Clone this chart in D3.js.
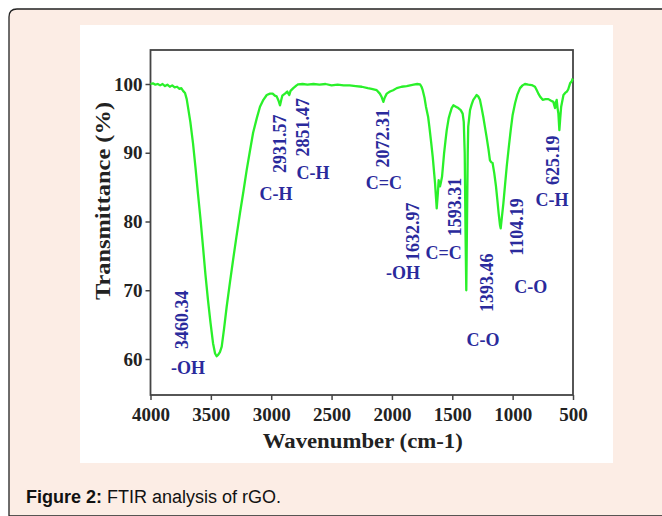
<!DOCTYPE html>
<html>
<head>
<meta charset="utf-8">
<script src="https://cdn.jsdelivr.net/npm/d3@7"></script>
<style>
  html, body { margin: 0; padding: 0; background: #ffffff; }
  svg { display: block; }
</style>
</head>
<body>
<svg id="chart" width="662" height="516"></svg>
<script>
// spectrum (wavenumber cm-1, transmittance %)
const wavenumber = [4000, 3980, 3960, 3940, 3920, 3900, 3880, 3860, 3840, 3820, 3800, 3780, 3760, 3745, 3730, 3714,
  3700, 3690, 3670, 3648, 3627, 3607, 3585, 3565, 3545, 3524, 3503, 3482, 3465, 3452, 3440, 3425, 3410, 3390, 3369,
  3343, 3316, 3288, 3259, 3230, 3203, 3176, 3150, 3120, 3093, 3065, 3037, 3010, 2988, 2970, 2955, 2940, 2927, 2918,
  2908, 2886, 2867, 2858, 2850, 2840, 2817, 2790, 2776, 2740, 2700, 2650, 2600, 2550, 2500, 2450, 2400, 2350, 2300,
  2250, 2200, 2168, 2126, 2100, 2085, 2071, 2060, 2043, 2016, 1990, 1960, 1920, 1878, 1820, 1790, 1767, 1755, 1745,
  1730, 1718, 1700, 1690, 1675, 1662, 1650, 1643, 1635, 1629, 1620, 1613, 1602, 1593, 1585, 1575, 1568, 1556, 1546,
  1530, 1519, 1505, 1491, 1470, 1450, 1430, 1414, 1405, 1397, 1390, 1384, 1378, 1372, 1368, 1353, 1340, 1326, 1310,
  1298, 1285, 1271, 1258, 1243, 1230, 1216, 1200, 1188, 1176, 1166, 1152, 1138, 1127, 1116, 1105, 1099, 1090, 1077,
  1062, 1049, 1032, 1016, 1000, 980, 960, 939, 918, 898, 870, 842, 815, 800, 787, 770, 751, 728, 704, 685, 663, 649,
  642, 635, 628, 621, 613, 605, 598, 579, 565, 551, 540, 524, 510, 502];
const transmittance = [100.0, 100.1, 99.9, 100.0, 99.8, 100.0, 99.7, 99.9, 99.6, 99.8, 99.5, 99.6, 99.3, 99.4, 99.0, 98.7,
  97.8, 96.7, 94.5, 91.4, 87.8, 84.1, 80.2, 76.3, 72.3, 68.6, 65.3, 62.3, 60.8, 60.4, 60.6, 61.0, 61.8, 64.5, 67.6,
  71.0, 74.4, 77.8, 81.2, 84.4, 87.5, 90.3, 92.9, 95.0, 96.7, 97.7, 98.4, 98.6, 98.6, 98.3, 98.2, 97.6, 96.9, 97.6,
  98.3, 98.6, 98.9, 98.6, 98.4, 99.0, 99.4, 99.8, 99.95, 100.0, 99.9, 100.0, 99.9, 100.0, 99.8, 99.9, 99.8, 99.8, 99.7,
  99.6, 99.4, 99.3, 99.1, 98.6, 98.1, 97.4, 98.0, 98.6, 98.9, 99.1, 99.4, 99.6, 99.7, 99.9, 100.0, 99.95, 99.6, 99.1,
  98.0, 96.7, 95.2, 93.8, 91.5, 89.4, 87.0, 85.6, 83.5, 81.9, 84.0, 86.0, 85.1, 85.8, 86.5, 88.5, 89.9, 91.8, 93.3,
  95.0, 95.7, 96.5, 96.9, 96.7, 96.5, 96.2, 95.7, 94.5, 90.0, 78.0, 70.0, 80.0, 90.0, 93.8, 96.2, 97.0, 97.7, 98.1,
  98.4, 98.2, 97.7, 96.6, 95.2, 93.8, 92.3, 90.5, 88.9, 88.6, 88.5, 87.0, 85.1, 83.2, 81.2, 79.5, 79.0, 80.5, 82.6,
  85.5, 88.0, 90.8, 93.3, 95.5, 97.2, 98.5, 99.4, 99.8, 100.0, 99.9, 99.85, 99.6, 99.1, 98.6, 98.1, 97.7, 97.8, 97.8, 97.6, 97.4, 96.5,
  97.3, 97.7, 96.5, 95.7, 93.3, 95.2, 96.7, 98.4, 98.7, 98.9, 99.2, 100.1, 100.4, 100.8];

// peak annotations, anchored in data units
const peakLabels = ["3460.34", "2931.57", "2851.47", "2072.31", "1632.97", "1593.31", "1393.46", "1104.19", "625.19"];
const peakLabelWn = [3742, 2927, 2737, 2074, 1825, 1477, 1212, 965, 666];
const peakLabelT = [65.7, 91.3, 93.7, 92.1, 78.5, 82.1, 71.1, 79.2, 88.9];
const groupLabels = ["-OH", "C-H", "C-H", "C=C", "-OH", "C=C", "C-O", "C-O", "C-H"];
const groupLabelWn = [3689, 2960, 2654, 2066, 1908, 1572, 1246, 849, 674];
const groupLabelT = [58.8, 84.1, 87.1, 85.6, 72.5, 75.4, 62.8, 70.5, 83.1];

const xTicks = [4000, 3500, 3000, 2500, 2000, 1500, 1000, 500];
const yTicks = [60, 70, 80, 90, 100];

const svg = d3.select("#chart");
const serif = "'Liberation Serif', 'Times New Roman', serif";
const blue = "#2a2a9c";

// page panel
svg.append("path")
    .attr("d", "M9,516 L9,17 Q9,9 17,9 L670,9 L670,516 Z")
    .attr("fill", "#fcede5")
    .attr("stroke", "#222")
    .attr("stroke-width", 1.3);

svg.append("rect")
    .attr("x", 80).attr("y", 25)
    .attr("width", 533).attr("height", 438)
    .attr("fill", "#ffffff");

const plotLeft = 150.5, plotRight = 573, plotTop = 50, plotBottom = 395;

const x = d3.scaleLinear().domain([4000, 500]).range([plotLeft, plotRight]);
const y = d3.scaleLinear().domain([60, 100]).range([359, 84]);

// axes
const xAxis = svg.append("g")
    .attr("transform", `translate(0,${plotBottom})`)
    .call(d3.axisBottom(x).tickValues(xTicks).tickFormat(d3.format("d"))
        .tickSize(5).tickSizeOuter(0).tickPadding(4));
const yAxis = svg.append("g")
    .attr("transform", `translate(${plotLeft},0)`)
    .call(d3.axisLeft(y).tickValues(yTicks).tickSize(5).tickPadding(3));

[xAxis, yAxis].forEach(g => {
    g.select(".domain").remove();
    g.selectAll("line").attr("stroke", "#444").attr("stroke-width", 1.5);
    g.selectAll("text")
        .attr("fill", "#222")
        .style("font-family", serif)
        .style("font-weight", "bold")
        .style("font-size", "19px");
});
xAxis.selectAll("text").attr("dy", "0.9em");

// frame
svg.append("rect")
    .attr("x", plotLeft).attr("y", plotTop)
    .attr("width", plotRight - plotLeft).attr("height", plotBottom - plotTop)
    .attr("fill", "none")
    .attr("stroke", "#444")
    .attr("stroke-width", 1.8);

// axis titles
svg.append("text")
    .attr("x", (plotLeft + plotRight) / 2 + 1)
    .attr("y", 448)
    .attr("text-anchor", "middle")
    .attr("textLength", 200)
    .attr("lengthAdjust", "spacingAndGlyphs")
    .attr("fill", "#222")
    .style("font-family", serif)
    .style("font-weight", "bold")
    .style("font-size", "20px")
    .text("Wavenumber (cm-1)");

svg.append("text")
    .attr("transform", "translate(110,201) rotate(-90)")
    .attr("text-anchor", "middle")
    .attr("textLength", 198)
    .attr("lengthAdjust", "spacingAndGlyphs")
    .attr("fill", "#222")
    .style("font-family", serif)
    .style("font-weight", "bold")
    .style("font-size", "20px")
    .text("Transmittance (%)");

// annotations
const labelFont = g => g
    .attr("fill", blue)
    .style("font-family", serif)
    .style("font-weight", "bold")
    .style("font-size", "18px");

svg.append("g").selectAll("text")
    .data(peakLabels)
    .enter().append("text")
    .attr("transform", (d, i) => `translate(${x(peakLabelWn[i])},${y(peakLabelT[i])}) rotate(-90)`)
    .attr("text-anchor", "middle")
    .attr("dy", "0.35em")
    .call(labelFont)
    .text(d => d);

svg.append("g").selectAll("text")
    .data(groupLabels)
    .enter().append("text")
    .attr("x", (d, i) => x(groupLabelWn[i]))
    .attr("y", (d, i) => y(groupLabelT[i]))
    .attr("text-anchor", "middle")
    .attr("dy", "0.35em")
    .call(labelFont)
    .text(d => d);

// spectrum
const line = d3.line()
    .x(i => x(wavenumber[i]))
    .y(i => y(transmittance[i]))
    .curve(d3.curveLinear);

svg.append("path")
    .datum(d3.range(wavenumber.length))
    .attr("d", line)
    .attr("fill", "none")
    .attr("stroke", "#2af02a")
    .attr("stroke-width", 2.3)
    .attr("stroke-linejoin", "round");

// caption
const caption = svg.append("text")
    .attr("x", 26)
    .attr("y", 503)
    .attr("fill", "#111")
    .style("font-family", "'Liberation Sans', Arial, sans-serif")
    .style("font-size", "18px");
caption.append("tspan").style("font-weight", "bold").text("Figure 2:");
caption.append("tspan").text(" FTIR analysis of rGO.");
</script>
</body>
</html>
